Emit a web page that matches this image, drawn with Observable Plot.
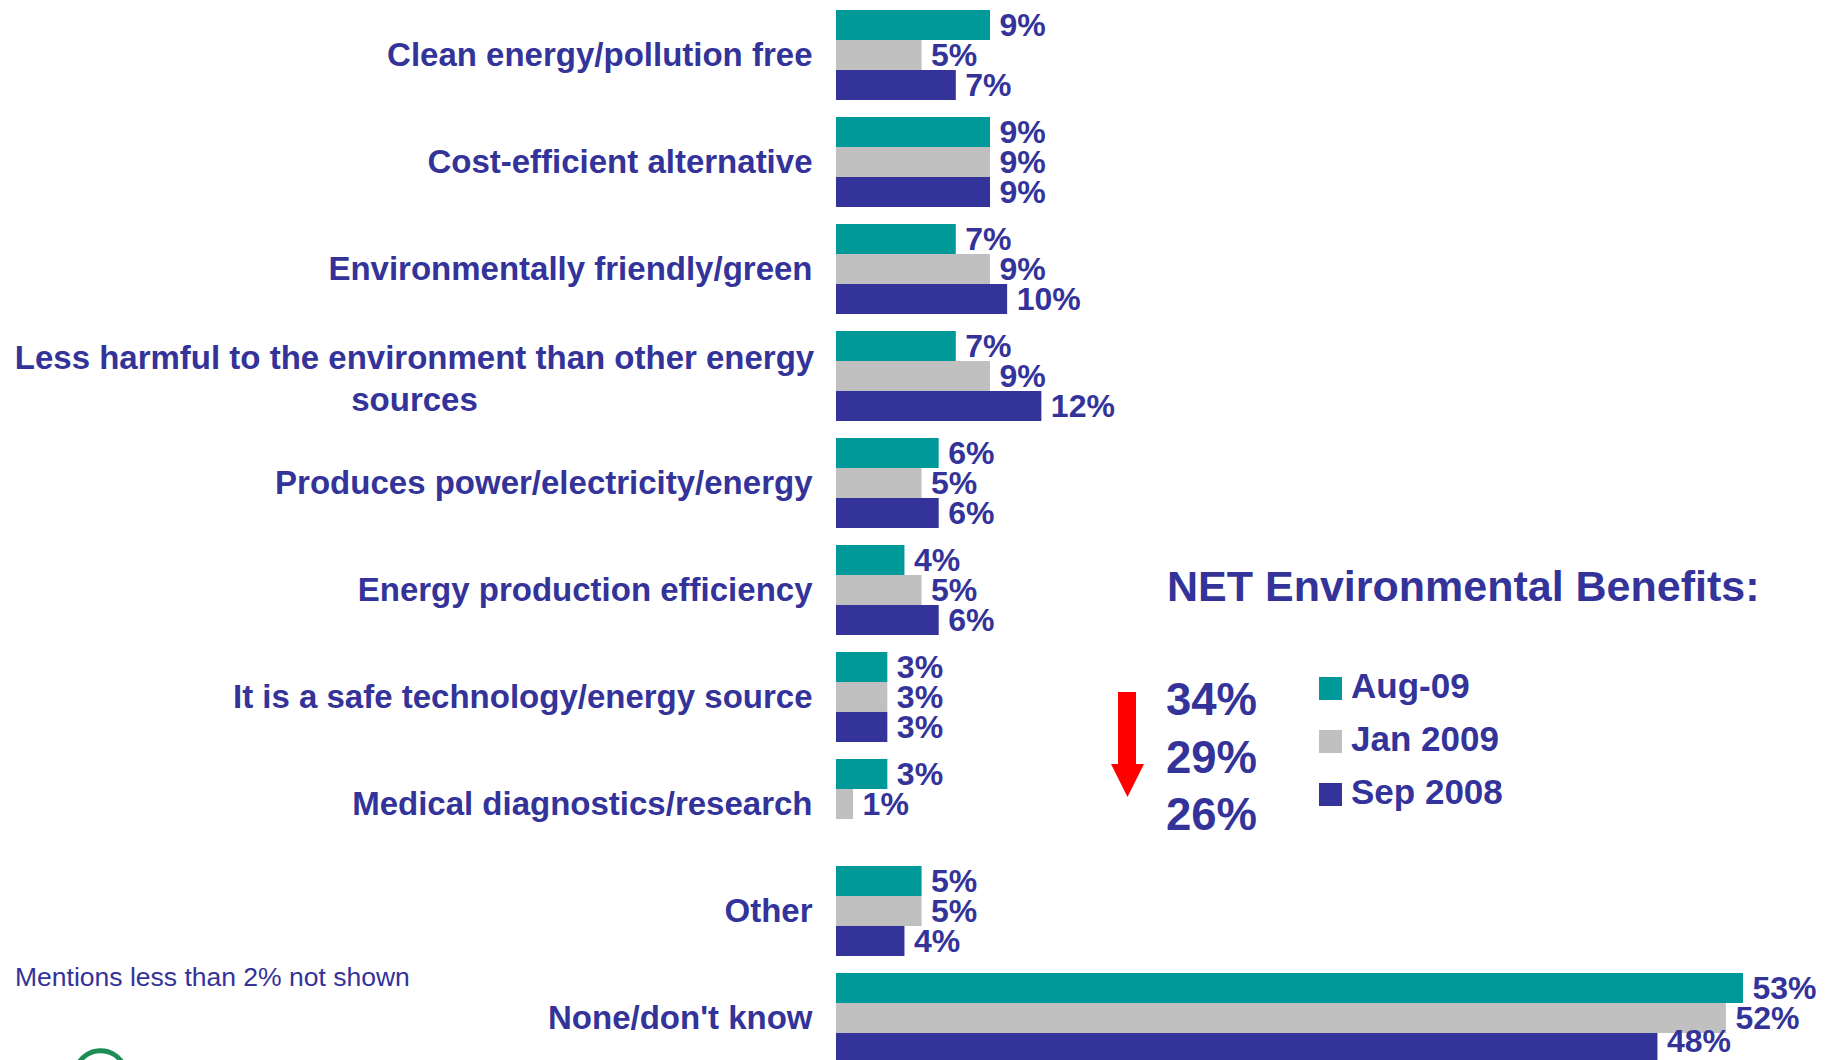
<!DOCTYPE html>
<html>
<head>
<meta charset="utf-8">
<script src="https://cdn.jsdelivr.net/npm/d3@7"></script>
<script src="https://cdn.jsdelivr.net/npm/@observablehq/plot@0.6"></script>
<style>
  html, body { margin: 0; padding: 0; background: #fff; overflow: hidden; }
  #wrap { position: relative; width: 1832px; height: 1060px; overflow: hidden; }
  #wrap > svg { position: absolute; left: 0; top: 0; }
</style>
</head>
<body>
<div id="wrap"></div>
<script>
// ---- data ----
const categories = [
  "Clean energy/pollution free",
  "Cost-efficient alternative",
  "Environmentally friendly/green",
  "Less harmful to the environment than other energy sources",
  "Produces power/electricity/energy",
  "Energy production efficiency",
  "It is a safe technology/energy source",
  "Medical diagnostics/research",
  "Other",
  "None/don't know"
];
const seriesNames = ["Aug-09", "Jan 2009", "Sep 2008"];
const aug09   = [9, 9, 7, 7, 6, 4, 3, 3, 5, 53];
const jan2009 = [5, 9, 9, 9, 5, 5, 3, 1, 5, 52];
const sep2008 = [7, 9, 10, 12, 6, 6, 3, null, 4, 48];
const seriesColors = ["#009999", "#C0C0C0", "#333399"];
const netTitle = "NET Environmental Benefits:";
const netValues = [34, 29, 26];
const footnote = "Mentions less than 2% not shown";

const NAVY = "#333399";
const FONT = "'Liberation Sans', Arial, Helvetica, sans-serif";

const seriesValues = [aug09, jan2009, sep2008];
const rows = [];
categories.forEach((c, i) => {
  seriesNames.forEach((s, j) => {
    const v = seriesValues[j][i];
    if (v != null) rows.push({category: c, series: s, value: v});
  });
});
const wrapLabel = "Less harmful to the environment than other energy sources";
const singleCats = categories.filter(c => c !== wrapLabel);
const multiCats = categories.filter(c => c === wrapLabel);
// the bottom-most label sits a little higher so it stays inside the picture
const lastCat = categories[categories.length - 1];
const lastSeries = seriesNames[seriesNames.length - 1];
const isBottom = d => d.category === lastCat && d.series === lastSeries;

const valueText = {
  x: "value", y: "series", fy: "category",
  text: d => d.value + "%",
  dx: 9, textAnchor: "start",
  fill: NAVY, fontSize: 32, fontWeight: "bold"
};

const chart = Plot.plot({
  width: 1832,
  height: 1064,
  marginLeft: 836,
  marginRight: 0,
  marginTop: 9,
  marginBottom: 0,
  x: {domain: [0, 58.2], axis: null},
  y: {domain: seriesNames, axis: null, padding: 0},
  fy: {domain: categories, axis: null, paddingInner: 0.14, paddingOuter: 0, round: false},
  color: {domain: seriesNames, range: seriesColors},
  style: {fontFamily: FONT, background: "white", overflow: "visible"},
  marks: [
    Plot.barX(rows, {x: "value", y: "series", fy: "category", fill: "series"}),
    Plot.text(rows.filter(d => !isBottom(d)), valueText),
    Plot.text(rows.filter(isBottom), {...valueText, dy: -7}),
    Plot.text(singleCats, {
      fy: d => d, text: d => d,
      frameAnchor: "left", dx: -24, textAnchor: "end",
      fill: NAVY, fontSize: 33, fontWeight: "bold"
    }),
    Plot.text(multiCats, {
      fy: d => d, text: d => d.replace(" sources", "\nsources"),
      frameAnchor: "left", dx: -422, textAnchor: "middle", lineHeight: 1.27,
      fill: NAVY, fontSize: 33, fontWeight: "bold"
    })
  ]
});

const wrap = document.getElementById("wrap");
wrap.appendChild(chart);

// ---- annotation overlay (legend, NET benefits, footnote) ----
const colorScale = chart.scale("color");
const ov = d3.select(wrap).append("svg")
  .attr("width", 1832).attr("height", 1060)
  .style("pointer-events", "none")
  .style("font-family", FONT);

ov.append("text").attr("x", 1167).attr("y", 601)
  .attr("fill", NAVY).attr("font-size", 43).attr("font-weight", "bold")
  .text(netTitle);

// red downward arrow
ov.append("rect").attr("x", 1118).attr("y", 692).attr("width", 18).attr("height", 73).attr("fill", "#FF0000");
ov.append("path").attr("d", "M1111,764 L1144,764 L1127.5,797 Z").attr("fill", "#FF0000");

const netBaselines = [715, 773, 830];
netValues.forEach((v, i) => {
  ov.append("text").attr("x", 1166).attr("y", netBaselines[i])
    .attr("fill", NAVY).attr("font-size", 45.5).attr("font-weight", "bold")
    .text(v + "%");
});

const legTops = [677, 730, 783];
seriesNames.forEach((s, i) => {
  ov.append("rect").attr("x", 1319).attr("y", legTops[i]).attr("width", 23).attr("height", 23)
    .attr("fill", colorScale.apply(s));
  ov.append("text").attr("x", 1351).attr("y", legTops[i] + 21)
    .attr("fill", NAVY).attr("font-size", 35).attr("font-weight", "bold")
    .text(s);
});

ov.append("text").attr("x", 15).attr("y", 986)
  .attr("fill", NAVY).attr("font-size", 26.5)
  .text(footnote);

// partial logo arc at bottom-left
ov.append("path").attr("d", "M78,1064 A26,26 0 0 1 122,1062")
  .attr("fill", "none").attr("stroke", "#1E8C55").attr("stroke-width", 5);
</script>
</body>
</html>
